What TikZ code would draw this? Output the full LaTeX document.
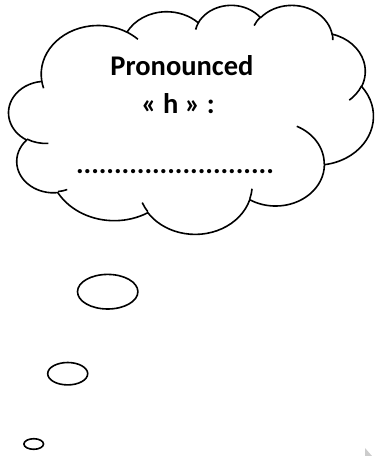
\documentclass[tikz,border=0pt]{standalone}
\usepackage{fontspec}
\setmainfont{Carlito}
\usetikzlibrary{shapes.geometric}
\tikzset{
  carc/.style n args={4}{insert path={arc[x radius=#1, y radius=#2,
     start angle={atan2(#1*sin(#3),#2*cos(#3))},
     delta angle={mod(atan2(#1*sin(#3+#4),#2*cos(#3+#4))-atan2(#1*sin(#3),#2*cos(#3))+720,360)}]}},
  outline/.style={draw=black, line width=1.6pt, line join=round},
  txt/.style={font=\fontsize{28.5}{34}\selectfont\bfseries, inner sep=0pt, anchor=base},
  bubble/.style={draw=black, line width=1.6pt, ellipse, inner sep=0pt}
}
\begin{document}
\begin{tikzpicture}[x=1pt, y=-1pt]
\useasboundingbox (0,0) rectangle (377,456);
\begin{scope}[shift={(8.8,4.6)}, x=0.8438pt, y=-0.530pt]
  \draw[outline] (39.00,143.70)
    [carc={67.53}{91.90}{-190.4875}{123.7805}]
    [carc={53.33}{72.67}{-144.1024}{89.9452}]
    [carc={43.65}{59.45}{-145.8079}{99.7230}]
    [carc={48.57}{65.95}{-130.9861}{117.2417}]
    [carc={53.33}{72.73}{-78.7089}{109.0269}]
    [carc={67.75}{92.20}{-46.2673}{130.2690}]
    [carc={57.85}{78.67}{0.6250}{114.0333}]
    [carc={67.52}{92.15}{22.4516}{115.1726}]
    [carc={77.20}{105.43}{66.2426}{75.7110}]
    [carc={43.60}{59.18}{-274.9421}{146.7356}]
    [carc={43.45}{59.45}{-246.8285}{152.5189}]
    -- cycle;
  \draw[outline] (46.93,261.77) [carc={43.45}{59.45}{86.7420}{26.4295}];
  \draw[outline] (69.28,348.99) [carc={43.60}{59.18}{73.6105}{11.4475}];
  \draw[outline] (164.78,390.90) [carc={67.52}{92.15}{137.6242}{14.0811}];
  \draw[outline] (288.27,347.51) [carc={67.52}{92.15}{6.4533}{15.9984}];
  \draw[outline] (341.29,229.54) [carc={57.85}{78.67}{-70.2924}{70.9174}];
  \draw[outline] (417.98,153.54) [carc={53.33}{72.73}{30.3180}{27.7515}];
  \draw[outline] (383.24,54.26) [carc={48.57}{65.95}{-13.7443}{14.8589}];
  \draw[outline] (290.78,39.52) [carc={48.57}{65.95}{-149.1815}{18.1954}];
  \draw[outline] (221.41,47.20) [carc={43.65}{59.45}{-163.4943}{17.6864}];
  \draw[outline] (140.00,51.92) [carc={67.53}{91.90}{-66.7070}{12.3194}];
  \draw[outline] (41.27,157.89) [carc={67.53}{91.90}{157.6544}{11.8582}];
\end{scope}
\node[txt] (line1) at (182,75) {Pronounced};
\node[txt] (line2) at (178,113) {« h » :};
\node[txt] (line3) at (175,173) {..........................};
\node[bubble, minimum width=60.4pt, minimum height=34.6pt] (big) at (107.7,291.7) {};
\node[bubble, minimum width=40pt, minimum height=22.4pt] (mid) at (67.7,373.7) {};
\node[bubble, minimum width=19.6pt, minimum height=10.6pt] (small) at (33.7,444) {};
\fill[black!20] (365,448) -- (372,456) -- (365,456) -- cycle;
\end{tikzpicture}
\end{document}
